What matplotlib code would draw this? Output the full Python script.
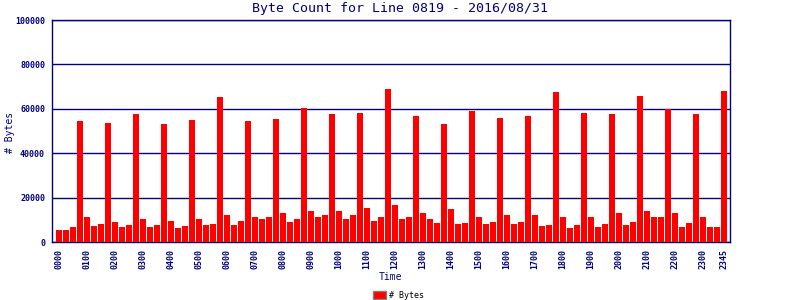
import matplotlib
matplotlib.use('Agg')
import matplotlib.pyplot as plt
from matplotlib.patches import Patch

# byte count per 15-minute interval, 0000 .. 2345
times = ['%02d%02d' % (h, m) for h in range(24) for m in (0, 15, 30, 45)]
byte_counts = [
    5300, 5300, 7000, 54500, 11500, 7400, 8300, 53600,
    9200, 7000, 7900, 57700, 10600, 7000, 7900, 53200,
    9700, 6500, 7400, 55000, 10600, 7900, 8300, 65300,
    12400, 7900, 9700, 54500, 11500, 10600, 11100, 55400,
    13300, 9200, 10200, 60400, 13800, 11100, 12000, 57700,
    13800, 10600, 12400, 58100, 15200, 9700, 11500, 68900,
    16500, 10200, 11100, 56800, 13300, 10200, 8800, 53200,
    14700, 8300, 8800, 59000, 11500, 8300, 9200, 55900,
    12400, 8300, 9200, 56800, 12000, 7400, 7900, 67600,
    11100, 6500, 7900, 58100, 11500, 7000, 8300, 57700,
    12900, 7900, 9200, 65800, 14200, 11100, 11100, 59900,
    13300, 7000, 8800, 57700, 11500, 7000, 7000, 68000,
]
tick_labels = [t for t in times if t.endswith('00')] + ['2345']

navy = '#000080'
font = 'DejaVu Sans Mono'

fig = plt.figure(figsize=(8, 3), dpi=100)
ax = fig.add_axes([0.065, 0.193, 0.8475, 0.74])

x = list(range(len(times)))
ax.bar(x, byte_counts, width=0.86, color='#ff0000', zorder=3)

ax.set_xlim(-1, 95.86)
ax.set_ylim(0, 100000)
ax.set_yticks([0, 20000, 40000, 60000, 80000, 100000])
ax.set_yticklabels(['0', '20000', '40000', '60000', '80000', '100000'],
                   fontsize=6, family=font, fontweight='bold', color=navy)
tick_pos = [times.index(t) for t in tick_labels]
ax.set_xticks(tick_pos)
ax.set_xticklabels(tick_labels, rotation=90, fontsize=6, family=font,
                   fontweight='bold', color=navy)
ax.tick_params(length=0, pad=5)
ax.grid(axis='y', color=navy, linewidth=1, zorder=1)
for s in ax.spines.values():
    s.set_color(navy)
    s.set_linewidth(1)

fig.text(0.5, 0.973, 'Byte Count for Line 0819 - 2016/08/31', ha='center', va='center',
         fontsize=9.5, family=font, color=navy)
fig.text(0.012, 0.558, '# Bytes', rotation=90, ha='center', va='center',
         fontsize=7, family=font, color=navy)
fig.text(0.488, 0.077, 'Time', ha='center', va='center', fontsize=7, family=font, color=navy)

handle = Patch(facecolor='#ff0000', edgecolor='#808080', linewidth=1)
fig.legend([handle], ['# Bytes'], loc='center', bbox_to_anchor=(0.498, 0.015), frameon=False,
           prop={'family': font, 'size': 6}, handlelength=1.6, handleheight=1.0,
           handletextpad=0.3, borderpad=0)

fig.savefig('out.png', dpi=100)
